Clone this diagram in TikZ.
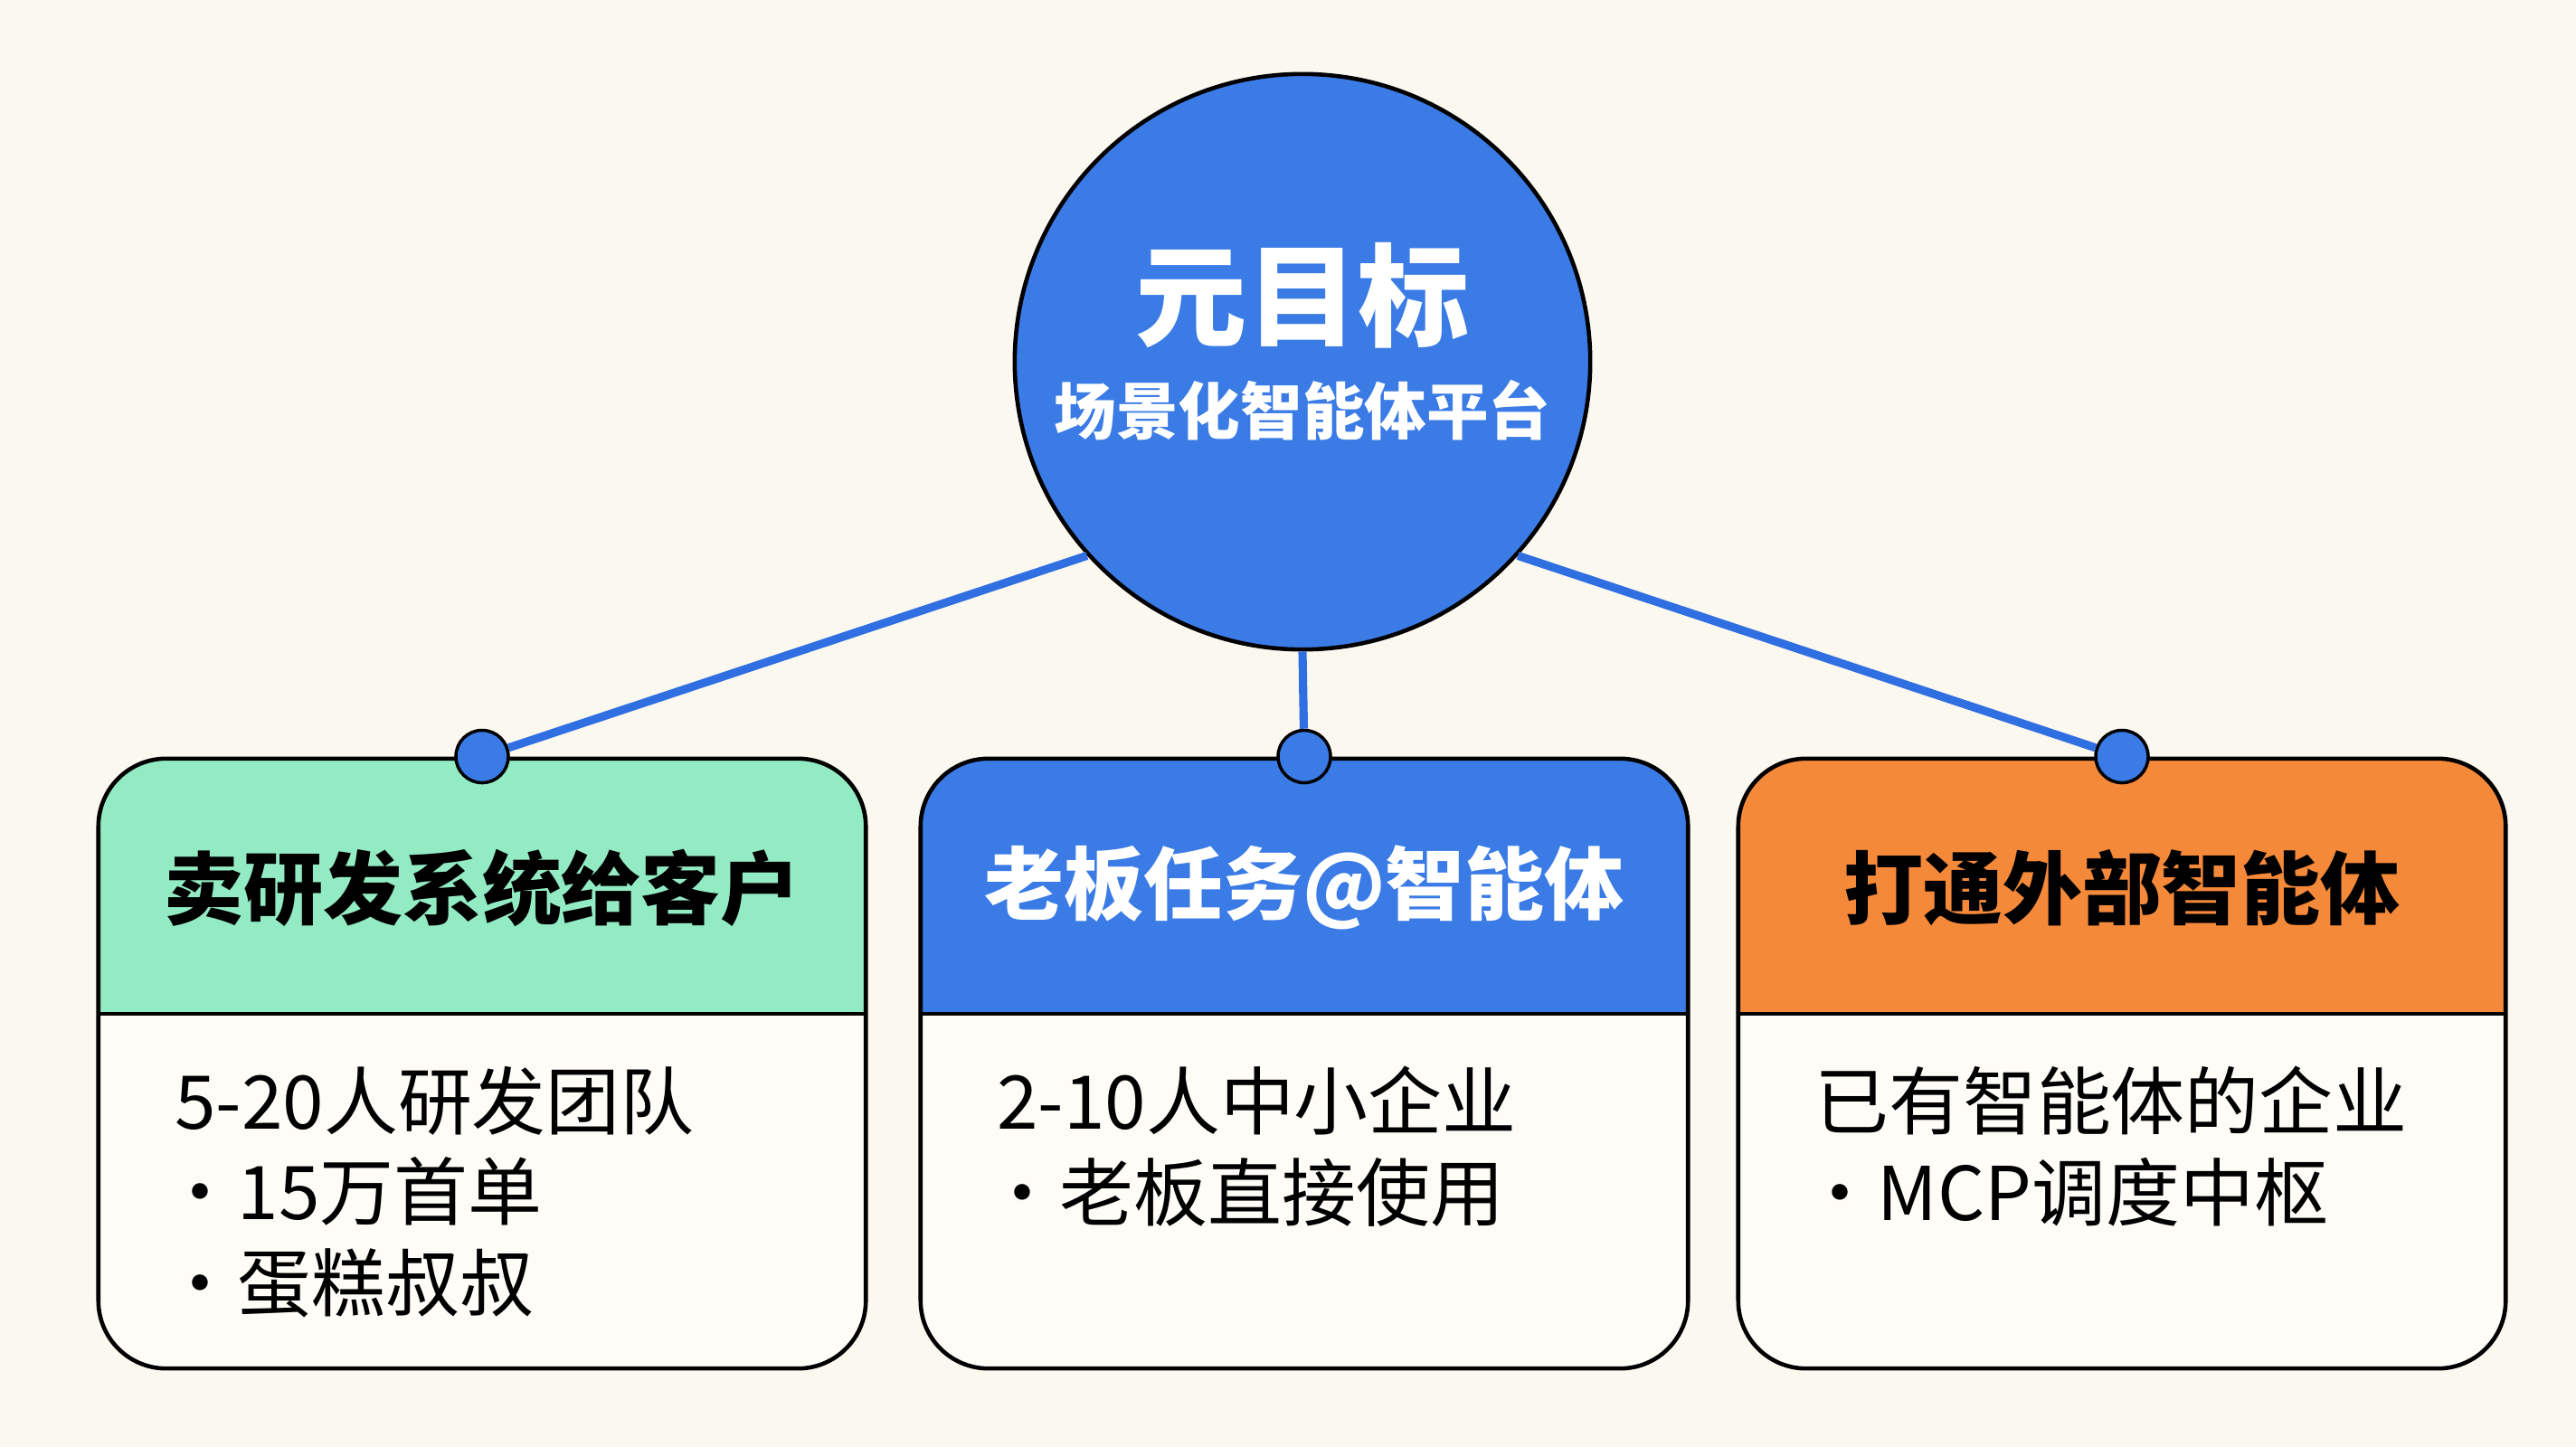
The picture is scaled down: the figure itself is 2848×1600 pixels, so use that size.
\documentclass[tikz,border=0pt]{standalone}
\usepackage{fontspec}
\setmainfont{Noto Sans CJK SC}
\definecolor{cream}{HTML}{FBF8EF}
\definecolor{paper}{HTML}{FDFCF7}
\definecolor{goalblue}{HTML}{3A7BE6}
\definecolor{linkblue}{HTML}{2F6FE2}
\definecolor{mint}{HTML}{93EBC4}
\definecolor{tangerine}{HTML}{F5893A}
\newcommand{\dotitem}{\kern-0.15em·}

\begin{document}
\begin{tikzpicture}[%
      x=0.01cm, y=-0.01cm,
      card/.style={%
        rectangle,
        rounded corners = 0.75cm,
        draw            = black,
        line width      = 1.3pt,
        fill            = paper,
        minimum width   = 8.48cm,
        minimum height  = 6.74cm,
        path picture    = {%
          \fill[#1, sharp corners] (path picture bounding box.north west)
            rectangle ([yshift=-2.82cm]path picture bounding box.north east);
          \draw[sharp corners, line width=1.3pt] ([yshift=-2.82cm]path picture bounding box.north west)
            -- ([yshift=-2.82cm]path picture bounding box.north east);
        },
      },
      pin/.style={%
        circle,
        inner sep     = 0pt,
        minimum size  = 0.58cm,
        fill          = goalblue,
        draw          = black,
        line width    = 1pt,
      },
      link/.style={%
        draw       = linkblue,
        line width = 2.6pt,
      },
      headtext/.style={%
        font = \fontsize{25}{30}\selectfont\bfseries,
      },
      bodytext/.style={%
        anchor      = north west,
        align       = left,
        inner sep   = 0pt,
        font        = \fontsize{23.3}{28.5}\selectfont,
      },
      ]

      \fill[cream] (0,0) rectangle (2848,1600);

      \node[card=mint] (Sell-Dev) at (533,1176) {};
      \node[card=goalblue] (Boss-Task) at (1442,1176) {};
      \node[card=tangerine] (Ext-Agent) at (2346,1176) {};

      \node[headtext] (Sell-Title) at ([yshift=-1.45cm]Sell-Dev.north) {卖研发系统给客户};
      \node[headtext, text=white] (Boss-Title) at ([yshift=-1.45cm]Boss-Task.north) {老板任务@智能体};
      \node[headtext] (Ext-Title) at ([yshift=-1.45cm]Ext-Agent.north) {打通外部智能体};

      \node[bodytext] (Sell-Text) at ([xshift=0.86cm,yshift=-3.42cm]Sell-Dev.north west) {5-20人研发团队\\\dotitem 15万首单\\\dotitem 蛋糕叔叔};
      \node[bodytext] (Boss-Text) at ([xshift=0.86cm,yshift=-3.42cm]Boss-Task.north west) {2-10人中小企业\\\dotitem 老板直接使用};
      \node[bodytext] (Ext-Text) at ([xshift=0.86cm,yshift=-3.42cm]Ext-Agent.north west) {已有智能体的企业\\\dotitem MCP调度中枢};

      \node[circle, fill=goalblue, draw=black, line width=1.3pt, minimum size=6.36cm] (Meta-Goal) at (1440,400) {};
      \node[text=white, font=\fontsize{35}{40}\selectfont\bfseries] (Goal-Title) at (1440,327) {元目标};
      \node[text=white, font=\fontsize{19.5}{24}\selectfont\bfseries] (Goal-Sub) at (1440,454) {场景化智能体平台};

      \node[pin] (Sell-Pin) at (Sell-Dev.north) {};
      \node[pin] (Boss-Pin) at (Boss-Task.north) {};
      \node[pin] (Ext-Pin) at (Ext-Agent.north) {};

      \draw[link] (Meta-Goal.222) -- (Sell-Pin);
      \draw[link] (Meta-Goal.south) -- (Boss-Pin);
      \draw[link] (Meta-Goal.318) -- (Ext-Pin);

    \end{tikzpicture}
\end{document}
